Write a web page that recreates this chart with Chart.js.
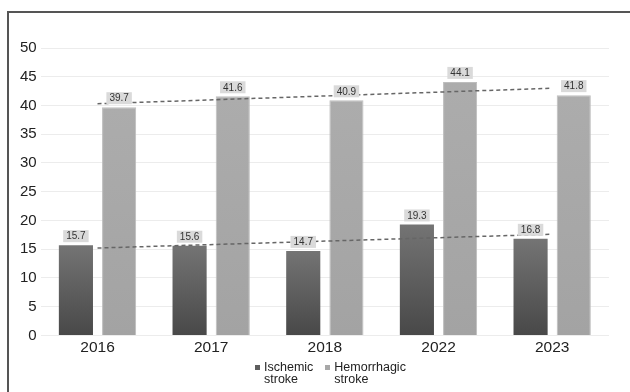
<!DOCTYPE html>
<html>
<head>
<meta charset="utf-8">
<script src="https://cdn.jsdelivr.net/npm/chart.js@4.4.1/dist/chart.umd.min.js"></script>
<style>
html,body{margin:0;padding:0;overflow:hidden;background:#fff;}
#wrap{position:relative;width:630px;height:392px;overflow:hidden;}
#frame{position:absolute;left:7px;top:11px;width:700px;height:500px;border-top:2px solid #555;border-left:2px solid #555;pointer-events:none;}
canvas{position:absolute;left:0;top:0;}
#legend{position:absolute;left:255px;top:361px;font-family:'Liberation Sans',Arial,sans-serif;font-size:12.5px;line-height:12px;color:#222;display:flex;}
.item{display:flex;align-items:flex-start;margin-right:12px;}
.sw{width:5px;height:5px;margin-top:4px;margin-right:4px;flex:none;}
</style>
</head>
<body>
<div id="wrap">
<canvas id="c" width="630" height="392"></canvas>
<div id="legend"></div>
<div id="frame"></div>
</div>
<script>
// ---- data ----
const years = ['2016', '2017', '2018', '2022', '2023'];
const ischemic = [15.7, 15.6, 14.7, 19.3, 16.8];
const hemorrhagic = [39.7, 41.6, 40.9, 44.1, 41.8];
// dashed trend lines: only the end values
const ischemicTrend = [15.2, null, null, null, 17.6];
const hemorrhagicTrend = [40.3, null, null, null, 43.0];
const yTicks = [0, 5, 10, 15, 20, 25, 30, 35, 40, 45, 50];
const seriesNames = [['Ischemic', 'stroke'], ['Hemorrhagic', 'stroke']];
const swatches = ['#5e5e5e', '#a8a8a8'];

const FONT = "'Liberation Sans', Arial, sans-serif";
Chart.defaults.font.family = FONT;
Chart.defaults.color = '#222';

function barGrad(ctx, top, bottom) {
  const chart = ctx.chart;
  const ys = chart.scales && chart.scales.y;
  if (!ys || ctx.type !== 'data') return bottom;
  const yTop = ys.getPixelForValue(ctx.raw);
  const yBot = ys.getPixelForValue(0);
  if (!isFinite(yTop) || !isFinite(yBot) || yTop === yBot) return bottom;
  const g = chart.ctx.createLinearGradient(0, yTop, 0, yBot);
  g.addColorStop(0, top);
  g.addColorStop(1, bottom);
  return g;
}

const labelPlugin = {
  id: 'valueBoxes',
  afterDatasetsDraw(chart) {
    const ctx = chart.ctx;
    ctx.save();
    ctx.font = "10px " + FONT;
    ctx.textAlign = 'center';
    ctx.textBaseline = 'middle';
    chart.data.datasets.forEach((ds, i) => {
      if (ds.type !== 'bar') return;
      const meta = chart.getDatasetMeta(i);
      meta.data.forEach((el, j) => {
        const txt = ds.data[j].toFixed(1);
        const w = ctx.measureText(txt).width + 6;
        const h = 12;
        const cy = el.y - 9;
        ctx.fillStyle = '#dadada';
        ctx.fillRect(el.x - w / 2, cy - h / 2, w, h);
        ctx.fillStyle = '#333';
        ctx.fillText(txt, el.x, cy + 0.5);
      });
    });
    ctx.restore();
  }
};

// HTML legend
const lg = document.getElementById('legend');
seriesNames.forEach((n, i) => {
  const it = document.createElement('div'); it.className = 'item';
  const sw = document.createElement('div'); sw.className = 'sw'; sw.style.background = swatches[i];
  const tx = document.createElement('div'); tx.innerHTML = n.join('<br>');
  it.appendChild(sw); it.appendChild(tx); lg.appendChild(it);
});

new Chart(document.getElementById('c'), {
  data: {
    labels: years,
    datasets: [
      {
        type: 'line', label: 'trendH', data: hemorrhagicTrend, spanGaps: true,
        borderColor: '#666', borderWidth: 1.5, borderDash: [4, 3], pointRadius: 0, fill: false, order: -1
      },
      {
        type: 'line', label: 'trendI', data: ischemicTrend, spanGaps: true,
        borderColor: '#666', borderWidth: 1.5, borderDash: [4, 3], pointRadius: 0, fill: false, order: -1
      },
      {
        type: 'bar', label: seriesNames[0].join(' '), data: ischemic,
        backgroundColor: (c) => barGrad(c, '#747474', '#484848'),
        borderWidth: 0,
        categoryPercentage: 0.76, barPercentage: 0.79
      },
      {
        type: 'bar', label: seriesNames[1].join(' '), data: hemorrhagic,
        backgroundColor: (c) => barGrad(c, '#acacac', '#a3a3a3'),
        borderColor: '#bdbdbd', borderWidth: 1,
        categoryPercentage: 0.76, barPercentage: 0.79
      }
    ]
  },
  options: {
    responsive: false,
    animation: false,
    layout: { padding: { left: 16, right: 21, top: 48, bottom: 32 } },
    plugins: {
      tooltip: { enabled: false },
      legend: { display: false }
    },
    scales: {
      x: {
        grid: { display: false, drawTicks: false },
        border: { display: false },
        ticks: { font: { size: 15.5 }, color: '#222', padding: 3 }
      },
      y: {
        min: 0, max: 50,
        afterBuildTicks(scale) { scale.ticks = yTicks.map(v => ({ value: v })); },
        grid: { color: '#ececec', lineWidth: 1, drawTicks: false },
        border: { display: false },
        ticks: { font: { size: 15 }, color: '#222', padding: 4 }
      }
    }
  },
  plugins: [labelPlugin]
});
</script>
</body>
</html>
